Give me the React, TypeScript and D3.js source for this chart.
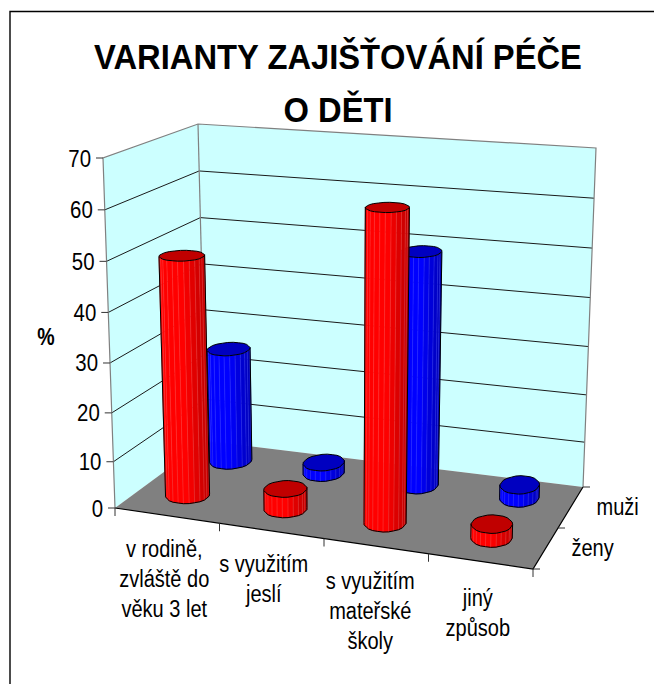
import React from "react";
import * as d3 from "d3";

const categories = ["v rodině, zvláště do věku 3 let", "s využitím jeslí", "s využitím mateřské školy", "jiný způsob"];
const categoryLines = [["v rodině,", "zvláště do", "věku 3 let"], ["s využitím", "jeslí"], ["s využitím", "mateřské", "školy"], ["jiný", "způsob"]];
const seriesNames = ["ženy", "muži"];
const zeny = [49.5, 4.5, 62.2, 3];
const muzi = [25, 2.5, 49, 3];
const yTicks = [0, 10, 20, 30, 40, 50, 60, 70];

type Pt = [number, number];
// the eight corners of the chart box on screen
const floorFL: Pt = [115, 508], floorFR: Pt = [533, 569], floorBR: Pt = [583, 487], floorBL: Pt = [206, 441];
const topFL: Pt = [103, 158], topFR: Pt = [544, 190], topBR: Pt = [596, 148], topBL: Pt = [198, 124];

const lerp = (a: Pt, b: Pt, t: number): Pt => [a[0] + (b[0] - a[0]) * t, a[1] + (b[1] - a[1]) * t];
const project = (u: number, v: number, z: number): Pt => {
  const floor = lerp(lerp(floorFL, floorFR, u), lerp(floorBL, floorBR, u), v);
  const ceil = lerp(lerp(topFL, topFR, u), lerp(topBL, topBR, u), v);
  return lerp(floor, ceil, z);
};
const zScale = d3.scalePow().exponent(1.04).domain([0, 70]).range([0, 1]);
const uScale = d3.scaleBand<string>().domain(categories).range([0, 1]);
const vScale = d3.scaleBand<string>().domain(seriesNames).range([0, 1]);
const line = d3.line<Pt>();
const poly = (pts: Pt[]) => line(pts) + "Z";

// small optical corrections of the layout
const barShift = [-0.01, -0.019, -0.024, -0.012];
const labelShift: Pt[] = [[-3, 41], [-8, 41], [-6, 43], [-3, 45]];
const RU = 0.048, RV = 0.112, N = 24;
const radius = (t: number) => {
  const s = Math.PI / 4;
  const m = ((t % s) + s) % s - s / 2;
  const oct = Math.cos(s / 2) / Math.cos(m);
  return 0.2 + 0.85 * oct;
};

function Txt({ x, y, size, sx, bold, anchor, children }: { x: number; y: number; size: number; sx: number; bold?: boolean; anchor?: string; children: React.ReactNode }) {
  return (
    <text transform={`translate(${x},${y}) scale(${sx},1)`} fontSize={size} fontWeight={bold ? "bold" : "normal"} textAnchor={anchor ?? "middle"}>
      {children}
    </text>
  );
}

function Bar({ index, cat, ser, value, light, dark, cap, seam }: { index: number; cat: string; ser: string; value: number; light: string; dark: string; cap: string; seam: string }) {
  const cu = uScale(cat)! + uScale.bandwidth() / 2 + barShift[index];
  const cv = vScale(ser)! + vScale.bandwidth() / 2 + 0.035;
  const ring = (z: number): Pt[] =>
    d3.range(N).map((i) => {
      const t = (i / N) * 2 * Math.PI;
      const r = radius(t + Math.PI / 8);
      return project(cu + RU * r * Math.cos(t), cv + RV * r * Math.sin(t), z);
    });
  const z = zScale(value);
  const base = ring(0), top = ring(z);
  const li = d3.leastIndex(base, (a, b) => a[0] - b[0])!;
  const ri = d3.greatestIndex(base, (p) => p[0]);
  const lp = base[li], rp = base[ri];
  const facets = d3.range(N).filter((i) => {
    const j = (i + 1) % N;
    const mx = (base[i][0] + base[j][0]) / 2, my = (base[i][1] + base[j][1]) / 2;
    return my >= lp[1] + ((rp[1] - lp[1]) * (mx - lp[0])) / (rp[0] - lp[0]);
  });
  const shade = d3.scaleLinear<string>().domain([lp[0], lp[0] + (rp[0] - lp[0]) * 0.5, rp[0]]).range([light, light, dark]);
  const ordered = facets.slice().sort((a, b) => base[a][0] - base[b][0]);
  const frontPath: Pt[] = [base[ordered[0]][0] < base[(ordered[0] + 1) % N][0] ? base[ordered[0]] : base[(ordered[0] + 1) % N]];
  ordered.forEach((i) => {
    const j = (i + 1) % N;
    frontPath.push(base[i][0] > base[j][0] ? base[i] : base[j]);
  });
  const lt = top[li], rt = top[ri];
  return (
    <g>
      {facets.map((i) => {
        const j = (i + 1) % N;
        const c = shade((base[i][0] + base[j][0]) / 2);
        return <path key={i} d={poly([base[i], base[j], top[j], top[i]])} fill={c} stroke={c} strokeWidth={0.5} />;
      })}
      {facets.map((i) => (
        <path key={"s" + i} d={line([base[i], top[i]])!} stroke={seam} strokeWidth={0.5} strokeOpacity={0.7} fill="none" />
      ))}
      <path d={line(frontPath)!} fill="none" stroke="#000" strokeWidth={1} />
      <path d={line([lp, lt])!} stroke="#000" strokeWidth={1} />
      <path d={line([rp, rt])!} stroke="#000" strokeWidth={1} />
      <path d={poly(top)} fill={cap} stroke="#000" strokeWidth={1} />
    </g>
  );
}

export default function App() {
  const font = "'Liberation Sans', Arial, sans-serif";
  const rows = [
    { ser: seriesNames[1], vals: muzi, light: "#0000ff", dark: "#0000b4", cap: "#0000c0", seam: "#5050ff" },
    { ser: seriesNames[0], vals: zeny, light: "#ff0000", dark: "#bc0000", cap: "#c00000", seam: "#ff6060" },
  ];
  return (
    <svg width={654} height={684} style={{ position: "absolute", left: 0, top: 0 }} fontFamily={font}>
      <rect x={0} y={0} width={654} height={684} fill="#fff" />
      <path d="M10,684V11.5H654" fill="none" stroke="#000" strokeWidth={1.4} />
      <Txt x={338} y={69} size={35} sx={0.935} bold>VARIANTY ZAJIŠŤOVÁNÍ PÉČE</Txt>
      <Txt x={338} y={122} size={35} sx={0.935} bold>O DĚTI</Txt>

      {/* walls */}
      <path d={poly([project(0, 0, 0), project(0, 1, 0), project(0, 1, 1), project(0, 0, 1)])} fill="#ccffff" />
      <path d={poly([project(0, 1, 0), project(1, 1, 0), project(1, 1, 1), project(0, 1, 1)])} fill="#ccffff" />
      <path d={poly([project(0, 0, 0), project(1, 0, 0), project(1, 1, 0), project(0, 1, 0)])} fill="#808080" />
      {yTicks.slice(1, -1).map((t) => {
        const z = zScale(t);
        return <path key={t} d={line([project(0, 0, z), project(0, 1, z), project(1, 1, z)])!} fill="none" stroke="#1a1a1a" strokeWidth={1} />;
      })}
      <path d={line([project(0, 0, 0), project(0, 0, 1), project(0, 1, 1), project(1, 1, 1), project(1, 1, 0)])!} fill="none" stroke="#808080" strokeWidth={1.2} />
      <path d={line([project(0, 1, 0), project(0, 1, 1)])!} fill="none" stroke="#808080" strokeWidth={1.2} />
      {/* axes */}
      <path d={line([project(0, 0, 0), project(1, 0, 0), project(1, 1, 0)])!} fill="none" stroke="#000" strokeWidth={1.2} />
      {yTicks.map((t) => {
        const p = project(0, 0, zScale(t));
        return (
          <g key={t}>
            <path d={line([p, [p[0] - 7, p[1]]])!} stroke="#333" />
            <Txt x={p[0] - 12} y={p[1] + 8.5} size={24} sx={0.85} anchor="end">{t}</Txt>
          </g>
        );
      })}
      {d3.range(categories.length + 1).map((i) => {
        const p = project(i / categories.length, 0, 0);
        return <path key={i} d={line([p, [p[0], p[1] + 8]])!} stroke="#333" />;
      })}
      {d3.range(seriesNames.length + 1).map((i) => {
        const p = project(1, i / seriesNames.length, 0);
        return <path key={i} d={line([p, [p[0] + 7, p[1]]])!} stroke="#333" />;
      })}

      {/* bars, back row first */}
      {rows.map((r) =>
        r.vals.map((v, i) => <Bar key={r.ser + i} index={i} cat={categories[i]} ser={r.ser} value={v} light={r.light} dark={r.dark} cap={r.cap} seam={r.seam} />)
      )}

      <Txt x={46} y={345} size={23} sx={0.85} bold>%</Txt>
      {categoryLines.map((lines, i) => {
        const p = project(uScale(categories[i])! + uScale.bandwidth() / 2, 0, 0);
        return lines.map((l, k) => (
          <Txt key={l + k} x={p[0] + labelShift[i][0]} y={p[1] + labelShift[i][1] + k * 30} size={23} sx={0.87}>{l}</Txt>
        ));
      })}
      {seriesNames.map((s, i) => {
        const p = project(1, (i + 0.5) / seriesNames.length, 0);
        return <Txt key={s} x={p[0] + 26} y={p[1] + 7} size={23} sx={0.87} anchor="start">{s}</Txt>;
      })}
    </svg>
  );
}
